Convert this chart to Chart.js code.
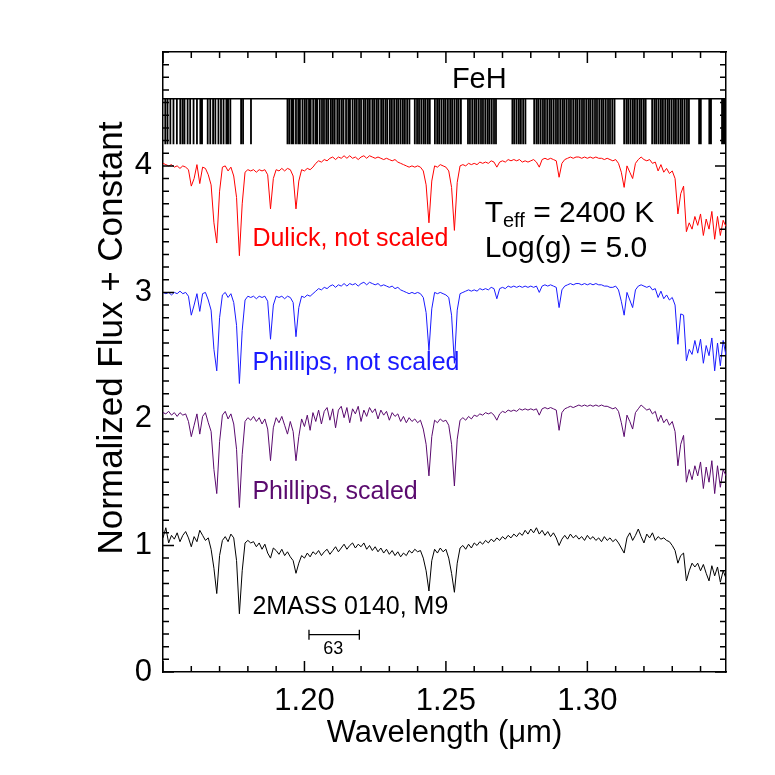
<!DOCTYPE html>
<html>
<head>
<meta charset="utf-8">
<script src="https://cdn.jsdelivr.net/npm/chart.js@4.4.1/dist/chart.umd.min.js"></script>
<style>
  body { margin: 0; background: #fff; }
  #spec { display: block; }
</style>
</head>
<body>
<canvas id="spec" width="775" height="775"></canvas>
<script>
// wavelength grid of the spectra (micron)
const wavelength = [
  1.150, 1.151, 1.152, 1.153, 1.154, 1.155, 1.156, 1.157, 1.158, 1.159,
  1.160, 1.161, 1.162, 1.163, 1.164, 1.165, 1.166, 1.167, 1.168, 1.169,
  1.170, 1.171, 1.172, 1.173, 1.174, 1.175, 1.176, 1.177, 1.178, 1.179,
  1.180, 1.181, 1.182, 1.183, 1.184, 1.185, 1.186, 1.187, 1.188, 1.189,
  1.190, 1.191, 1.192, 1.193, 1.194, 1.195, 1.196, 1.197, 1.198, 1.199,
  1.200, 1.201, 1.202, 1.203, 1.204, 1.205, 1.206, 1.207, 1.208, 1.209,
  1.210, 1.211, 1.212, 1.213, 1.214, 1.215, 1.216, 1.217, 1.218, 1.219,
  1.220, 1.221, 1.222, 1.223, 1.224, 1.225, 1.226, 1.227, 1.228, 1.229,
  1.230, 1.231, 1.232, 1.233, 1.234, 1.235, 1.236, 1.237, 1.238, 1.239,
  1.240, 1.241, 1.242, 1.243, 1.244, 1.245, 1.246, 1.247, 1.248, 1.249,
  1.250, 1.251, 1.252, 1.253, 1.254, 1.255, 1.256, 1.257, 1.258, 1.259,
  1.260, 1.261, 1.262, 1.263, 1.264, 1.265, 1.266, 1.267, 1.268, 1.269,
  1.270, 1.271, 1.272, 1.273, 1.274, 1.275, 1.276, 1.277, 1.278, 1.279,
  1.280, 1.281, 1.282, 1.283, 1.284, 1.285, 1.286, 1.287, 1.288, 1.289,
  1.290, 1.291, 1.292, 1.293, 1.294, 1.295, 1.296, 1.297, 1.298, 1.299,
  1.300, 1.301, 1.302, 1.303, 1.304, 1.305, 1.306, 1.307, 1.308, 1.309,
  1.310, 1.311, 1.312, 1.313, 1.314, 1.315, 1.316, 1.317, 1.318, 1.319,
  1.320, 1.321, 1.322, 1.323, 1.324, 1.325, 1.326, 1.327, 1.328, 1.329,
  1.330, 1.331, 1.332, 1.333, 1.334, 1.335, 1.336, 1.337, 1.338, 1.339,
  1.340, 1.341, 1.342, 1.343, 1.344, 1.345, 1.346, 1.347, 1.348, 1.349
];

// normalized flux, model with Dulick FeH, not scaled
const fluxDulick = [
  1.02, 1.01, 1.00, 1.01, 0.99, 1.00, 0.98, 1.00, 0.99, 0.97,
  0.84, 0.90, 1.01, 0.86, 0.99, 0.98, 0.93, 0.85, 0.55, 0.39,
  0.80, 0.99, 1.00, 0.96, 0.99, 0.92, 0.75, 0.29, 0.70, 0.95,
  0.97, 0.96, 0.97, 0.95, 0.97, 0.96, 0.97, 0.93, 0.66, 0.90,
  0.97, 0.96, 0.98, 0.96, 0.98, 0.97, 0.92, 0.66, 0.88, 0.97,
  0.96, 0.98, 0.97, 0.99, 1.02, 1.04, 1.03, 1.05, 1.04, 1.06,
  1.07, 1.05, 1.07, 1.06, 1.08, 1.06, 1.08, 1.06, 1.07, 1.05,
  1.07, 1.08, 1.06, 1.08, 1.07, 1.06, 1.07, 1.06, 1.05, 1.06,
  1.05, 1.04, 1.05, 1.03, 1.02, 1.01, 1.00, 0.99, 1.00, 0.99,
  1.00, 0.99, 0.96, 0.85, 0.55, 0.88, 1.00, 0.99, 1.01, 1.00,
  0.99, 0.96, 0.83, 0.49, 0.87, 1.00, 1.01, 1.00, 1.02, 1.01,
  1.02, 1.01, 1.03, 1.02, 1.03, 1.02, 1.04, 1.03, 0.99, 1.03,
  1.04, 1.03, 1.05, 1.04, 1.05, 1.04, 1.05, 1.03, 1.04, 1.03,
  1.04, 1.05, 1.03, 0.99, 1.05, 1.06, 1.05, 1.06, 1.05, 1.04,
  0.91, 1.02, 1.05, 1.06, 1.07, 1.06, 1.07, 1.07, 1.06, 1.07,
  1.06, 1.07, 1.06, 1.07, 1.06, 1.06, 1.05, 1.06, 1.05, 1.04,
  1.05, 1.02, 0.95, 0.83, 1.00, 0.95, 0.90, 1.02, 1.05, 1.07,
  1.05, 1.04, 1.05, 1.02, 1.03, 0.96, 1.01, 0.95, 0.98, 0.94,
  0.96, 0.90, 0.62, 0.78, 0.84, 0.48, 0.55, 0.50, 0.60, 0.53,
  0.62, 0.45, 0.58, 0.50, 0.64, 0.42, 0.60, 0.45, 0.57, 0.52
];

// normalized flux, model with Phillips FeH, not scaled
const fluxPhillips = [
  1.00, 0.99, 1.00, 0.98, 1.00, 0.99, 1.01, 0.99, 1.00, 0.97,
  0.82, 0.90, 0.99, 0.85, 0.99, 1.00, 0.94, 0.86, 0.55, 0.38,
  0.80, 0.98, 1.00, 0.96, 0.99, 0.92, 0.74, 0.28, 0.70, 0.94,
  0.97, 0.96, 0.97, 0.95, 0.97, 0.96, 0.97, 0.93, 0.63, 0.90,
  0.97, 0.96, 0.97, 0.95, 0.97, 0.96, 0.92, 0.65, 0.88, 0.97,
  0.96, 0.98, 0.97, 0.99, 1.01, 1.03, 1.02, 1.04, 1.03, 1.05,
  1.06, 1.04, 1.06, 1.05, 1.07, 1.05, 1.07, 1.06, 1.07, 1.05,
  1.07, 1.08, 1.06, 1.08, 1.07, 1.06, 1.07, 1.05, 1.06, 1.05,
  1.04, 1.05, 1.03, 1.04, 1.02, 1.01, 1.00, 0.99, 1.00, 0.99,
  1.00, 0.99, 0.96, 0.84, 0.54, 0.87, 1.00, 0.99, 1.00, 0.99,
  0.98, 0.96, 0.82, 0.44, 0.86, 0.99, 1.00, 1.01, 1.02, 1.01,
  1.02, 1.01, 1.03, 1.02, 1.03, 1.02, 1.04, 1.03, 0.95, 1.03,
  1.04, 1.03, 1.05, 1.04, 1.05, 1.04, 1.05, 1.04, 1.05, 1.04,
  1.05, 1.04, 1.05, 1.00, 1.05, 1.06, 1.05, 1.06, 1.05, 1.04,
  0.88, 1.02, 1.05, 1.06, 1.07, 1.06, 1.07, 1.07, 1.06, 1.07,
  1.06, 1.07, 1.06, 1.07, 1.06, 1.06, 1.05, 1.05, 1.04, 1.04,
  1.05, 1.02, 0.93, 0.82, 1.00, 0.94, 0.88, 1.02, 1.05, 1.06,
  1.05, 1.04, 1.05, 1.02, 1.03, 0.96, 1.01, 0.95, 0.98, 0.94,
  0.96, 0.90, 0.59, 0.83, 0.82, 0.46, 0.55, 0.51, 0.62, 0.52,
  0.63, 0.44, 0.58, 0.50, 0.64, 0.38, 0.60, 0.42, 0.62, 0.50
];

// normalized flux, model with Phillips FeH, scaled
const fluxPhillipsScaled = [
  1.05, 1.04, 1.06, 1.03, 1.05, 1.02, 1.05, 1.03, 1.04, 0.98,
  0.86, 0.95, 1.04, 0.88, 1.02, 1.05, 0.97, 0.90, 0.60, 0.41,
  0.82, 1.03, 1.06, 1.00, 1.04, 0.96, 0.76, 0.30, 0.72, 0.98,
  1.01, 0.99, 1.02, 0.98, 1.01, 0.96, 1.00, 0.92, 0.67, 0.93,
  1.01, 0.97, 1.02, 0.95, 0.88, 0.98, 0.90, 0.67, 0.86, 1.00,
  0.94, 1.03, 0.91, 1.05, 0.98, 1.07, 0.96, 1.06, 1.09, 0.99,
  1.08, 0.93, 1.07, 1.10, 1.01, 1.09, 0.97, 1.08, 1.04, 1.10,
  0.98, 1.07, 1.02, 1.09, 1.05, 1.08, 1.00, 1.07, 1.03, 1.06,
  0.99, 1.05, 1.02, 1.04, 0.98, 1.02, 0.97, 1.01, 0.98, 1.00,
  0.97, 0.99, 0.92, 0.80, 0.55, 0.86, 0.99, 0.97, 1.00, 0.98,
  0.99, 0.95, 0.80, 0.47, 0.84, 0.99, 1.01, 0.99, 1.02, 1.00,
  1.03, 1.02, 1.04, 1.03, 1.05, 1.04, 1.05, 1.03, 0.99, 1.04,
  1.06, 1.05, 1.07, 1.06, 1.07, 1.06, 1.08, 1.07, 1.08, 1.07,
  1.08, 1.07, 1.08, 1.03, 1.08, 1.09, 1.08, 1.09, 1.08, 1.07,
  0.91, 1.05, 1.08, 1.09, 1.10, 1.09, 1.10, 1.11, 1.10, 1.11,
  1.10, 1.11, 1.10, 1.11, 1.10, 1.11, 1.10, 1.10, 1.09, 1.08,
  1.09, 1.06, 0.97, 0.86, 1.03, 0.98, 0.92, 1.05, 1.08, 1.11,
  1.09, 1.07, 1.08, 1.04, 1.06, 0.98, 1.03, 0.97, 1.00, 0.95,
  0.98, 0.90, 0.63, 0.80, 0.87, 0.50, 0.60, 0.52, 0.63, 0.55,
  0.66, 0.45, 0.62, 0.50, 0.67, 0.41, 0.63, 0.46, 0.60, 0.55
];

// normalized flux, observed 2MASS 0140 (M9)
const flux2M0140 = [
  1.06, 1.14, 1.02, 1.08, 1.05, 1.10, 1.03, 1.08, 1.11, 1.06,
  0.99, 1.07, 1.03, 1.12, 1.08, 1.04, 1.06, 0.97, 0.82, 0.62,
  0.92, 1.04, 1.07, 1.03, 1.09, 1.06, 0.88, 0.46, 0.80, 1.02,
  1.04, 1.02, 1.03, 0.99, 1.02, 0.97, 1.01, 0.94, 0.90, 0.98,
  0.96, 0.93, 0.97, 0.92, 0.95, 0.91, 0.88, 0.78, 0.86, 0.92,
  0.90, 0.94, 0.91, 0.95, 0.93, 0.96, 0.92, 0.95, 0.97, 0.93,
  0.96, 0.99, 0.95, 0.98, 1.01, 0.97, 1.00, 1.02, 0.98, 1.01,
  0.99, 1.02, 0.97, 1.00, 0.96, 0.99, 0.95, 0.98, 0.94, 0.97,
  0.93, 0.96, 0.92, 0.95, 0.91, 0.94, 0.92, 0.96, 0.94, 0.97,
  0.95, 0.96, 0.90, 0.80, 0.64, 0.88, 0.97, 0.94, 0.98, 0.95,
  0.97, 0.90, 0.78, 0.63, 0.86, 0.98, 1.00, 0.97, 1.01, 0.98,
  1.02, 1.00, 1.03, 1.01, 1.04, 1.02, 1.05, 1.03, 1.06, 1.04,
  1.07, 1.05, 1.08, 1.06, 1.09, 1.07, 1.10, 1.08, 1.12, 1.09,
  1.13, 1.10, 1.14, 1.09, 1.12, 1.08, 1.11, 1.07, 1.10, 1.06,
  1.00, 1.05, 1.08, 1.05, 1.09, 1.06, 1.08, 1.05, 1.07, 1.04,
  1.08, 1.05, 1.07, 1.04, 1.06, 1.03, 1.07, 1.04, 1.06, 1.03,
  1.05, 1.02, 0.98, 0.94, 1.06, 1.10, 1.04, 1.08, 1.13, 1.07,
  1.02, 1.09, 1.06, 1.10, 1.04, 1.07, 1.05, 1.06, 1.04, 1.03,
  1.00, 0.96, 0.86, 0.92, 0.94, 0.72, 0.80, 0.86, 0.83, 0.86,
  0.80, 0.85, 0.78, 0.72, 0.84, 0.76, 0.83, 0.71, 0.80, 0.74
];

// constants added to each spectrum
const offsetDulick = 3;
const offsetPhillips = 2;
const offsetPhillipsScaled = 1;
const offset2M0140 = 0;

// FeH line positions (micron)
const fehLines = [
  1.1508, 1.1516, 1.1526, 1.1537, 1.1549, 1.1561, 1.1569, 1.1576, 1.1587, 1.1596,
  1.1608, 1.1620, 1.1632, 1.1638, 1.1658, 1.1667, 1.1677, 1.1685, 1.1696, 1.1705,
  1.1714, 1.1724, 1.1730, 1.1738, 1.1776, 1.1783, 1.1811,
  1.1940, 1.1947, 1.1955, 1.1961, 1.1970, 1.1978, 1.1984, 1.1993, 1.2001, 1.2008,
  1.2016, 1.2022, 1.2031, 1.2039, 1.2045, 1.2054, 1.2062, 1.2069, 1.2077, 1.2084,
  1.2093, 1.2100, 1.2107, 1.2116, 1.2123, 1.2131, 1.2138, 1.2147, 1.2155, 1.2161,
  1.2170, 1.2178, 1.2185, 1.2193, 1.2200, 1.2209, 1.2216, 1.2224, 1.2231, 1.2240,
  1.2247, 1.2255, 1.2262, 1.2271, 1.2278, 1.2286, 1.2293, 1.2302, 1.2309, 1.2317,
  1.2325, 1.2332, 1.2340, 1.2348, 1.2355, 1.2363, 1.2371, 1.2390, 1.2398, 1.2405,
  1.2413, 1.2421, 1.2428, 1.2436, 1.2443, 1.2461, 1.2469, 1.2476, 1.2484, 1.2492,
  1.2499, 1.2507, 1.2515, 1.2522, 1.2530, 1.2538, 1.2545, 1.2553, 1.2578, 1.2585,
  1.2593, 1.2601, 1.2608, 1.2616, 1.2624, 1.2631, 1.2639, 1.2647, 1.2654, 1.2662,
  1.2670, 1.2677, 1.2735, 1.2742, 1.2750, 1.2758, 1.2765, 1.2773, 1.2781, 1.2812,
  1.2820, 1.2827, 1.2835, 1.2843, 1.2850, 1.2858, 1.2866, 1.2873, 1.2881, 1.2889,
  1.2896, 1.2904, 1.2912, 1.2919, 1.2927, 1.2935, 1.2942, 1.2950, 1.2958, 1.2965,
  1.2973, 1.2981, 1.2988, 1.2996, 1.3004, 1.3011, 1.3019, 1.3027, 1.3034, 1.3042,
  1.3050, 1.3057, 1.3065, 1.3073, 1.3080, 1.3088, 1.3096, 1.3130, 1.3138, 1.3145,
  1.3153, 1.3161, 1.3168, 1.3176, 1.3184, 1.3191, 1.3199, 1.3206, 1.3229, 1.3237,
  1.3244, 1.3252, 1.3260, 1.3267, 1.3275, 1.3283, 1.3290, 1.3298, 1.3306, 1.3313,
  1.3321, 1.3329, 1.3336, 1.3344, 1.3352, 1.3359, 1.3395, 1.3401, 1.3431, 1.3437,
  1.3476, 1.3482, 1.3487
];
const fehBottom = 4.17;
const fehTop = 4.53;

const xTicks = [1.20, 1.25, 1.30];
const yTicks = [0, 1, 2, 3, 4];

const FONT = "'Liberation Sans', Arial, Helvetica, sans-serif";
Chart.defaults.font.family = FONT;
Chart.defaults.color = "#000";

function spectrum(flux, offset) {
  return wavelength.map((w, i) => ({ x: w, y: flux[i] + offset }));
}

function fehSegments() {
  const pts = [];
  fehLines.forEach((w) => {
    pts.push({ x: w, y: fehBottom }, { x: w, y: fehTop }, { x: w, y: null });
  });
  return pts;
}

// inward tick marks, FeH box line, y title
const framePlugin = {
  id: "frame",
  afterDraw(chart) {
    const { ctx, chartArea: a, scales } = chart;
    const x = scales.x;
    const y = scales.y;
    ctx.save();
    ctx.strokeStyle = "#000";
    ctx.lineWidth = 1.5;
    ctx.beginPath();
    const yf = y.getPixelForValue(fehTop);
    ctx.moveTo(a.left, yf);
    ctx.lineTo(a.right, yf);
    for (let i = 115; i <= 134; i++) {
      const px = x.getPixelForValue(i / 100);
      const len = i % 5 === 0 ? 11 : 6;
      ctx.moveTo(px, a.bottom);
      ctx.lineTo(px, a.bottom - len);
      ctx.moveTo(px, a.top);
      ctx.lineTo(px, a.top + len);
    }
    for (let j = 0; j <= 49; j++) {
      const py = y.getPixelForValue(j / 10);
      const len = j % 10 === 0 ? 11 : 6;
      ctx.moveTo(a.left, py);
      ctx.lineTo(a.left + len, py);
      ctx.moveTo(a.right, py);
      ctx.lineTo(a.right - len, py);
    }
    ctx.stroke();

    // y axis title
    ctx.translate(a.left - 51, (a.top + a.bottom) / 2 - 24);
    ctx.rotate(-Math.PI / 2);
    ctx.font = "35px " + FONT;
    ctx.fillStyle = "#000";
    ctx.textAlign = "center";
    ctx.textBaseline = "middle";
    ctx.fillText("Normalized Flux + Constant", 0, 0);
    ctx.restore();
  }
};

// text annotations
const notesPlugin = {
  id: "notes",
  afterDatasetsDraw(chart) {
    const { ctx, scales } = chart;
    const x = scales.x;
    const y = scales.y;
    ctx.save();
    ctx.textBaseline = "middle";

    function put(text, wx, wy, color, size, align) {
      ctx.font = size + "px " + FONT;
      ctx.fillStyle = color;
      ctx.textAlign = align || "left";
      ctx.fillText(text, x.getPixelForValue(wx), y.getPixelForValue(wy));
    }

    put("FeH", 1.2618, 4.68, "#000", 29, "center");
    put("Dulick, not scaled", 1.1816, 3.42, "#ff0000", 25);
    put("Phillips, not scaled", 1.1816, 2.44, "#1a1aff", 25);
    put("Phillips, scaled", 1.1816, 1.42, "#5a0a6e", 25);
    put("2MASS 0140, M9", 1.1816, 0.51, "#000", 25);
    put("Log(g) = 5.0", 1.2637, 3.345, "#000", 30);

    // T_eff with subscript
    let px = x.getPixelForValue(1.2637);
    const py = y.getPixelForValue(3.62);
    ctx.fillStyle = "#000";
    ctx.textAlign = "left";
    ctx.font = "30px " + FONT;
    ctx.fillText("T", px, py);
    px += ctx.measureText("T").width;
    ctx.font = "20px " + FONT;
    ctx.fillText("eff", px, py + 8);
    px += ctx.measureText("eff").width;
    ctx.font = "30px " + FONT;
    ctx.fillText(" = 2400 K", px, py);

    // resolution bar
    const x0 = x.getPixelForValue(1.2016);
    const x1 = x.getPixelForValue(1.2194);
    const yb = y.getPixelForValue(0.295);
    ctx.strokeStyle = "#000";
    ctx.lineWidth = 1.3;
    ctx.beginPath();
    ctx.moveTo(x0, yb); ctx.lineTo(x1, yb);
    ctx.moveTo(x0, yb - 5); ctx.lineTo(x0, yb + 5);
    ctx.moveTo(x1, yb - 5); ctx.lineTo(x1, yb + 5);
    ctx.stroke();
    put("63", 1.2102, 0.178, "#000", 18, "center");
    ctx.restore();
  }
};

function lineSet(data, color, width) {
  return {
    data: data,
    borderColor: color,
    borderWidth: width,
    pointRadius: 0,
    tension: 0,
    fill: false,
    spanGaps: false
  };
}

const border = { display: true, color: "#000", width: 1.5 };

new Chart(document.getElementById("spec"), {
  type: "line",
  data: {
    datasets: [
      lineSet(fehSegments(), "#000", 1.8),
      lineSet(spectrum(fluxDulick, offsetDulick), "#ff0000", 1),
      lineSet(spectrum(fluxPhillips, offsetPhillips), "#1a1aff", 1),
      lineSet(spectrum(fluxPhillipsScaled, offsetPhillipsScaled), "#5a0a6e", 1),
      lineSet(spectrum(flux2M0140, offset2M0140), "#000", 1)
    ]
  },
  options: {
    responsive: false,
    animation: false,
    devicePixelRatio: 1,
    layout: { padding: 0 },
    plugins: {
      legend: { display: false },
      tooltip: { enabled: false }
    },
    scales: {
      x: {
        type: "linear",
        position: "bottom",
        min: 1.15,
        max: 1.349,
        afterBuildTicks: (s) => { s.ticks = xTicks.map((v) => ({ value: v })); },
        afterFit: (s) => { s.height = 103; },
        grid: { display: false, drawTicks: false },
        border: border,
        ticks: {
          font: { size: 31 },
          padding: 11,
          maxRotation: 0,
          autoSkip: false,
          callback: (v) => Number(v).toFixed(2)
        },
        title: {
          display: true,
          text: "Wavelength (\u03bcm)",
          font: { size: 31 },
          padding: { top: 0, bottom: 23 }
        }
      },
      x2: {
        type: "linear",
        position: "top",
        min: 1.15,
        max: 1.349,
        afterFit: (s) => { s.height = 52; },
        grid: { display: false, drawTicks: false },
        border: border,
        ticks: { display: false }
      },
      y: {
        type: "linear",
        position: "left",
        min: 0,
        max: 4.9,
        afterBuildTicks: (s) => { s.ticks = yTicks.map((v) => ({ value: v })); },
        afterFit: (s) => { s.width = 163; },
        grid: { display: false, drawTicks: false },
        border: border,
        ticks: {
          font: { size: 31 },
          padding: 11,
          callback: (v) => String(v)
        }
      },
      y2: {
        type: "linear",
        position: "right",
        min: 0,
        max: 4.9,
        afterFit: (s) => { s.width = 49; },
        grid: { display: false, drawTicks: false },
        border: border,
        ticks: { display: false }
      }
    }
  },
  plugins: [framePlugin, notesPlugin]
});
</script>
</body>
</html>
